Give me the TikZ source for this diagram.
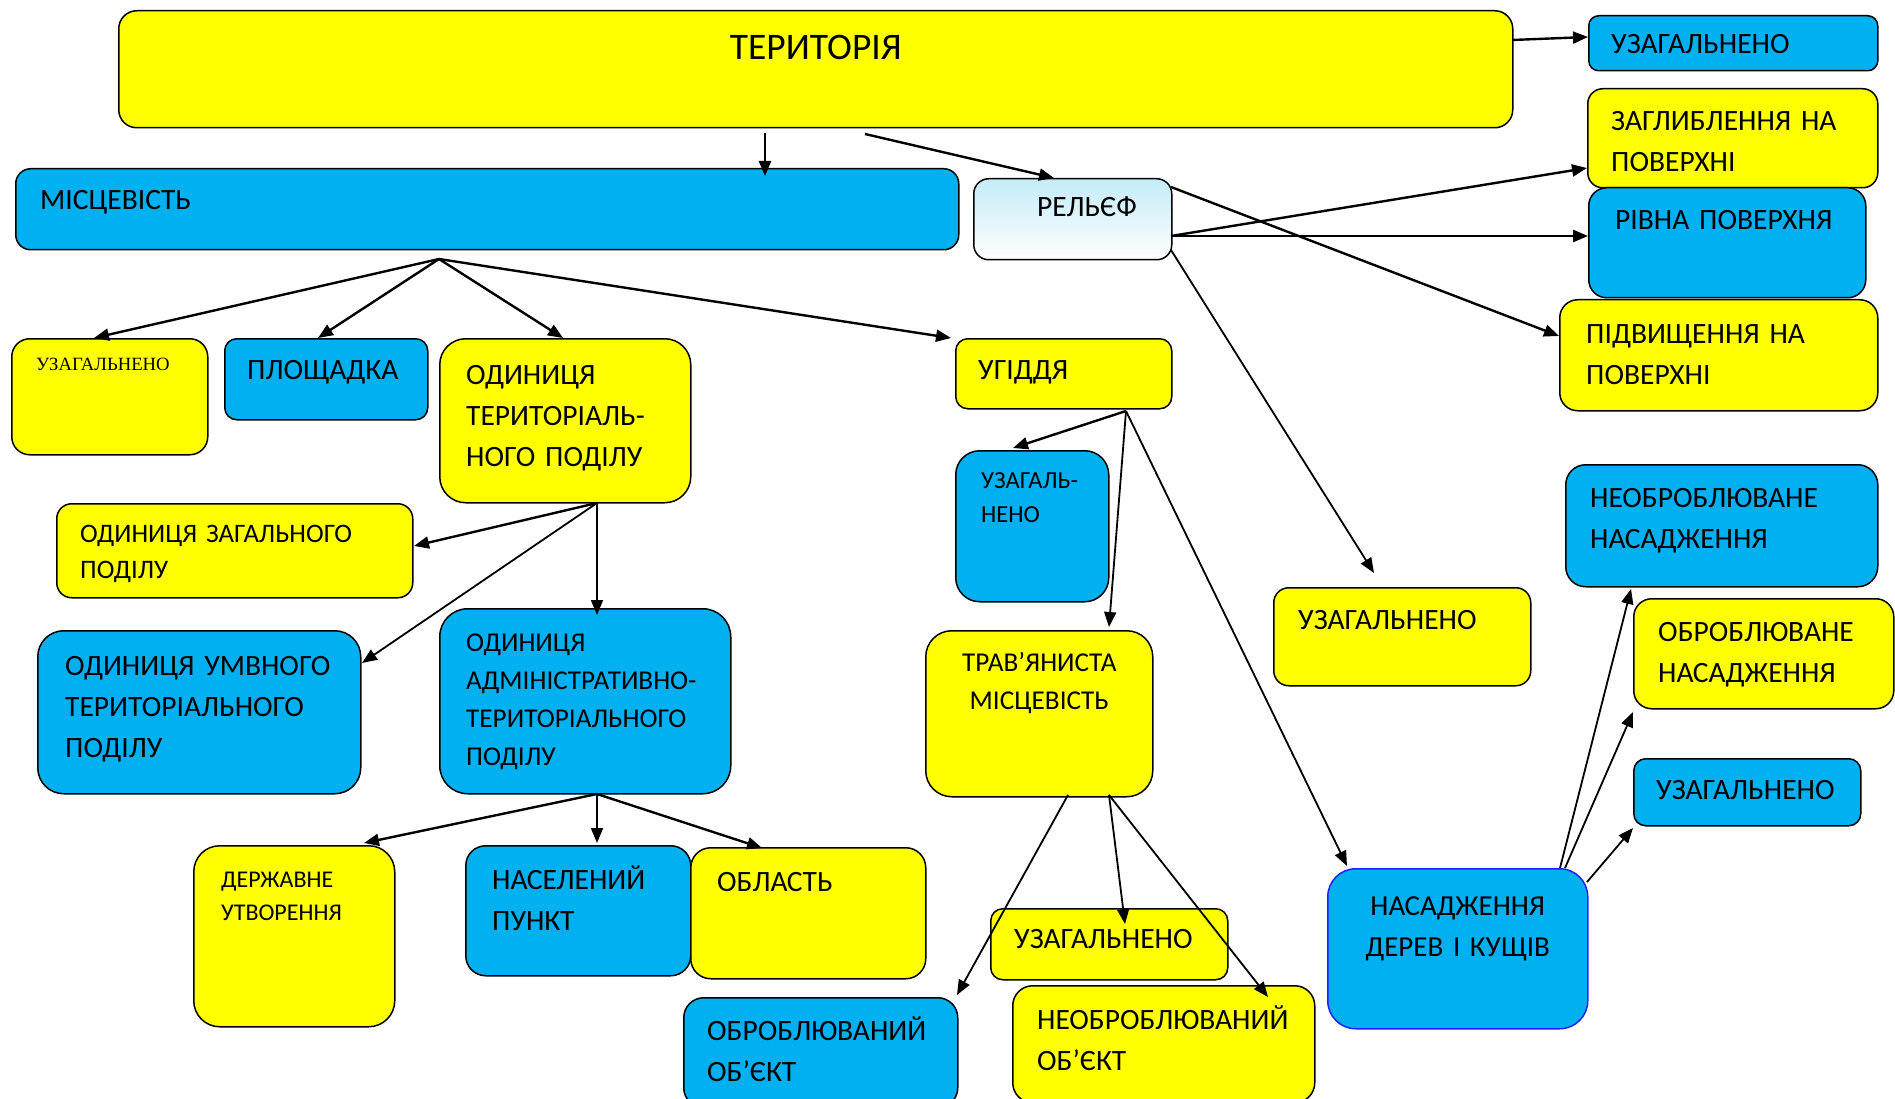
\documentclass[tikz,border=0pt]{standalone}
\usepackage{fontspec}
\setmainfont{Carlito}
\newfontfamily\timesfont{Liberation Serif}
\usetikzlibrary{arrows.meta}
\definecolor{wordyellow}{HTML}{FFFF00}
\definecolor{wordblue}{HTML}{00B0F0}
\definecolor{reliefblue}{HTML}{C4ECF8}
\definecolor{treeborder}{HTML}{2020FF}
\tikzset{
  box/.style={draw=black, line width=1.5pt, rounded corners=15pt, anchor=north west, inner sep=0pt},
  ybox/.style={box, fill=wordyellow},
  bbox/.style={box, fill=wordblue},
  txt/.style={anchor=base west, align=left, text width=340pt, inner sep=0pt, font=\fontsize{29.5}{41}\selectfont},
  ctxt/.style={txt, anchor=base, align=center},
  link/.style={-{Triangle[length=15pt,width=12pt]}, line width=2.4pt},
  thinlink/.style={link, line width=1.8pt},
}
\begin{document}
\begin{tikzpicture}[x=1pt,y=-1pt]
\useasboundingbox (0,0) rectangle (1895,1099);

% top level
\node[ybox, minimum width=1394pt, minimum height=117pt, rounded corners=18pt,
  label={[ctxt, font=\fontsize{37.5}{41}\selectfont, yshift=-50pt]north:ТЕРИТОРІЯ}] (terr) at (118,10) {};
\node[bbox, minimum width=289pt, minimum height=55pt, rounded corners=10pt,
  label={[txt, xshift=23pt, yshift=-39pt]north west:УЗАГАЛЬНЕНО}] (gen1) at (1588,15) {};
\node[bbox, minimum width=943pt, minimum height=81pt,
  label={[txt, xshift=25pt, yshift=-42pt]north west:МІСЦЕВІСТЬ}] (terrain) at (15,168) {};
\node[box, top color=reliefblue, bottom color=white, minimum width=198pt, minimum height=81pt,
  label={[txt, xshift=64pt, yshift=-39pt]north west:РЕЛЬЄФ}] (relief) at (973,178) {};

% relief
\node[ybox, minimum width=290pt, minimum height=99pt,
  label={[txt, xshift=24pt, yshift=-43pt]north west:{ЗАГЛИБЛЕННЯ НА\\ПОВЕРХНІ}}] (depr) at (1587,88) {};
\node[bbox, minimum width=277pt, minimum height=110pt, rounded corners=18pt,
  label={[txt, xshift=27pt, yshift=-43pt]north west:РІВНА ПОВЕРХНЯ}] (flat) at (1588,187) {};
\node[ybox, minimum width=318pt, minimum height=111pt, rounded corners=18pt,
  label={[txt, xshift=27pt, yshift=-44pt]north west:{ПІДВИЩЕННЯ НА\\ПОВЕРХНІ}}] (elev) at (1559,299) {};
\node[ybox, minimum width=257pt, minimum height=98pt,
  label={[txt, xshift=25pt, yshift=-42pt]north west:УЗАГАЛЬНЕНО}] (gen4) at (1273,587) {};

% terrain
\node[ybox, minimum width=196pt, minimum height=116pt, rounded corners=18pt,
  label={[txt, font=\timesfont\fontsize{18.7}{22}\selectfont, xshift=25pt, yshift=-32pt]north west:УЗАГАЛЬНЕНО}] (gen2) at (11,338) {};
\node[bbox, minimum width=203pt, minimum height=81pt, rounded corners=12pt,
  label={[txt, xshift=23pt, yshift=-41pt]north west:ПЛОЩАДКА}] (site) at (224,338) {};
\node[ybox, minimum width=251pt, minimum height=164pt, rounded corners=26pt,
  label={[txt, xshift=27pt, yshift=-46pt]north west:{ОДИНИЦЯ\\ТЕРИТОРІАЛЬ-\\НОГО ПОДІЛУ}}] (unit) at (439,338) {};
\node[ybox, minimum width=216pt, minimum height=70pt, rounded corners=12pt,
  label={[txt, xshift=23pt, yshift=-41pt]north west:УГІДДЯ}] (land) at (955,338) {};

% territorial division
\node[ybox, minimum width=356pt, minimum height=94pt,
  label={[txt, font=\fontsize{26.7}{36}\selectfont, xshift=24pt, yshift=-39pt]north west:{ОДИНИЦЯ ЗАГАЛЬНОГО\\ПОДІЛУ}}] (gendiv) at (56,503) {};
\node[bbox, minimum width=323pt, minimum height=163pt, rounded corners=26pt,
  label={[txt, xshift=28pt, yshift=-45pt]north west:{ОДИНИЦЯ УМВНОГО\\ТЕРИТОРІАЛЬНОГО\\ПОДІЛУ}}] (conddiv) at (37,630) {};
\node[bbox, minimum width=291pt, minimum height=185pt, rounded corners=28pt,
  label={[txt, font=\fontsize{27.2}{38}\selectfont, xshift=27pt, yshift=-43pt]north west:{ОДИНИЦЯ\\АДМІНІСТРАТИВНО-\\ТЕРИТОРІАЛЬНОГО\\ПОДІЛУ}}] (admdiv) at (439,608) {};
\node[ybox, minimum width=201pt, minimum height=181pt, rounded corners=26pt,
  label={[txt, font=\fontsize{24}{33}\selectfont, xshift=28pt, yshift=-42pt]north west:{ДЕРЖАВНЕ\\УТВОРЕННЯ}}] (state) at (193,845) {};
\node[bbox, minimum width=225pt, minimum height=130pt, rounded corners=20pt,
  label={[txt, xshift=27pt, yshift=-44pt]north west:{НАСЕЛЕНИЙ\\ПУНКТ}}] (settle) at (465,845) {};
\node[ybox, minimum width=235pt, minimum height=131pt, rounded corners=20pt,
  label={[txt, xshift=27pt, yshift=-44pt]north west:ОБЛАСТЬ}] (region) at (690,847) {};

% lands
\node[bbox, minimum width=153pt, minimum height=151pt, rounded corners=24pt,
  label={[txt, font=\fontsize{24.5}{34}\selectfont, xshift=26pt, yshift=-38pt]north west:{УЗАГАЛЬ-\\НЕНО}}] (gen3) at (955,450) {};
\node[ybox, minimum width=227pt, minimum height=166pt, rounded corners=26pt,
  label={[ctxt, font=\fontsize{27.2}{38}\selectfont, yshift=-41pt]north:{ТРАВ’ЯНИСТА\\МІСЦЕВІСТЬ}}] (grass) at (925,630) {};
\node[bbox, minimum width=274pt, minimum height=110pt, rounded corners=20pt,
  label={[txt, xshift=24pt, yshift=-43pt]north west:{ОБРОБЛЮВАНИЙ\\ОБ’ЄКТ}}] (cultobj) at (683,997) {};
\node[ybox, minimum width=237pt, minimum height=71pt, rounded corners=12pt,
  label={[txt, xshift=24pt, yshift=-40pt]north west:УЗАГАЛЬНЕНО}] (gen6) at (990,908) {};
\node[ybox, minimum width=302pt, minimum height=117pt, rounded corners=20pt,
  label={[txt, xshift=25pt, yshift=-44pt]north west:{НЕОБРОБЛЮВАНИЙ\\ОБ’ЄКТ}}] (uncultobj) at (1012,985) {};

% plantations
\node[box, draw=treeborder, fill=wordblue, minimum width=260pt, minimum height=160pt, rounded corners=28pt,
  label={[ctxt, font=\fontsize{29}{41}\selectfont, yshift=-47pt]north:{НАСАДЖЕННЯ\\ДЕРЕВ І КУЩІВ}}] (trees) at (1327,868) {};
\node[bbox, minimum width=312pt, minimum height=122pt, rounded corners=20pt,
  label={[txt, xshift=25pt, yshift=-43pt]north west:{НЕОБРОБЛЮВАНЕ\\НАСАДЖЕННЯ}}] (uncult) at (1565,464) {};
\node[ybox, minimum width=260pt, minimum height=110pt, rounded corners=18pt,
  label={[txt, xshift=25pt, yshift=-43pt]north west:{ОБРОБЛЮВАНЕ\\НАСАДЖЕННЯ}}] (cult) at (1633,598) {};
\node[bbox, minimum width=227pt, minimum height=67pt, rounded corners=12pt,
  label={[txt, xshift=23pt, yshift=-41pt]north west:УЗАГАЛЬНЕНО}] (gen5) at (1633,758) {};

% connectors
\coordinate (fanA) at ([shift={(424,91)}]terrain.north west);
\draw[link] ([shift={(1394,30)}]terr.north west) -- ([shift={(0,22)}]gen1.north west);
\draw[link] ([shift={(647,123)}]terr.north west) -- ([shift={(750,8)}]terrain.north west);
\draw[link] ([shift={(747,124)}]terr.north west) -- ([shift={(81,0)}]relief.north west);

\draw[link] (fanA) -- ([shift={(83,0)}]gen2.north west);
\draw[link] (fanA) -- ([shift={(94,0)}]site.north west);
\draw[link] (fanA) -- ([shift={(124,0)}]unit.north west);
\draw[link] (fanA) -- ([shift={(-4,0)}]land.north west);

\draw[link] ([shift={(198,58)}]relief.north west) -- ([shift={(0,80)}]depr.north west);
\draw[link] ([shift={(198,58)}]relief.north west) -- ([shift={(0,49)}]flat.north west);
\draw[link] ([shift={(198,9)}]relief.north west) -- ([shift={(0,37)}]elev.north west);
\draw[thinlink] ([shift={(198,72)}]relief.north west) -- ([shift={(101,-14)}]gen4.north west);

\draw[link] ([shift={(158,165)}]unit.north west) -- ([shift={(358,43)}]gendiv.north west);
\draw[thinlink] ([shift={(158,165)}]unit.north west) -- ([shift={(325,33)}]conddiv.north west);
\draw[thinlink] ([shift={(158,165)}]unit.north west) -- ([shift={(158,7)}]admdiv.north west);

\draw[link] ([shift={(158,186)}]admdiv.north west) -- ([shift={(171,-2)}]state.north west);
\draw[thinlink] ([shift={(158,186)}]admdiv.north west) -- ([shift={(132,-2)}]settle.north west);
\draw[link] ([shift={(158,186)}]admdiv.north west) -- ([shift={(72,1)}]region.north west);

\draw[link] ([shift={(171,73)}]land.north west) -- ([shift={(58,-2)}]gen3.north west);
\draw[thinlink] ([shift={(171,73)}]land.north west) -- ([shift={(184,-3)}]grass.north west);
\draw[thinlink] ([shift={(171,73)}]land.north west) -- ([shift={(20,-2)}]trees.north west);

\draw[thinlink] ([shift={(143,165)}]grass.north west) -- ([shift={(274,-2)}]cultobj.north west);
\draw[thinlink] ([shift={(184,165)}]grass.north west) -- ([shift={(135,16)}]gen6.north west);
\draw[thinlink] ([shift={(184,165)}]grass.north west) -- ([shift={(256,12)}]uncultobj.north west);

\draw[thinlink] ([shift={(233,0)}]trees.north west) -- ([shift={(66,125)}]uncult.north west);
\draw[thinlink] ([shift={(238,0)}]trees.north west) -- ([shift={(0,114)}]cult.north west);
\draw[thinlink] ([shift={(260,14)}]trees.north west) -- ([shift={(0,70)}]gen5.north west);
\end{tikzpicture}
\end{document}
